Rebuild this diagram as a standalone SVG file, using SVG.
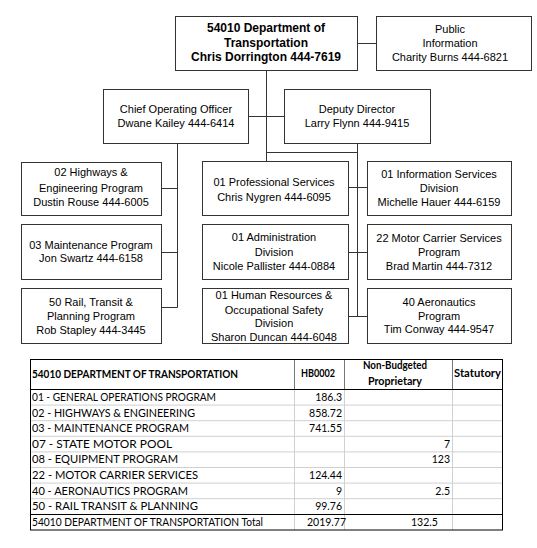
<svg xmlns="http://www.w3.org/2000/svg" width="537" height="548" viewBox="0 0 537 548">
<style>
.box{fill:#fff;stroke:#333;stroke-width:1}
.t{font-family:"Liberation Sans",Arial,sans-serif;font-size:11px;fill:#000;text-anchor:middle}
.tb{font-family:"Liberation Sans",Arial,sans-serif;font-size:12px;font-weight:bold;fill:#000;text-anchor:middle}
.con{stroke:#333;stroke-width:1;fill:none}
.tt{font-family:Lato,"Liberation Sans",sans-serif;font-size:10.5px;fill:#000}
.th{font-family:Lato,"Liberation Sans",sans-serif;font-size:10.5px;font-weight:bold;fill:#000}
.r{text-anchor:end}
.m{text-anchor:middle}
.outer{stroke:#000;stroke-width:1;fill:none}
.inner{stroke:#d0d0d0;stroke-width:1}
.hv{stroke:#777;stroke-width:1}
</style>
<rect width="537" height="548" fill="#fff"/>
<g id="connectors">
<path class="con" d="M357.5 43.5H376.5"/>
<path class="con" d="M266.5 70.5V161"/>
<path class="con" d="M248 116.5H284"/>
<path class="con" d="M266.5 152.5H357.5"/>
<path class="con" d="M357.5 143V316.5"/>
<path class="con" d="M177.5 143V307.5"/>
<path class="con" d="M161 188.5H177.5M161 252.5H177.5M161 307.5H177.5"/>
<path class="con" d="M348 187.5H367M348 252.5H367M348 316.5H367"/>
</g>
<g id="director">
<rect class="box" x="175.5" y="16.5" width="182" height="54"/>
<text class="tb" x="266" y="32">54010 Department of</text>
<text class="tb" x="266" y="47">Transportation</text>
<text class="tb" x="266" y="61">Chris Dorrington 444-7619</text>
</g>
<g id="public-info">
<rect class="box" x="376.5" y="16.5" width="155" height="54"/>
<text class="t" x="450" y="33">Public</text>
<text class="t" x="450" y="47">Information</text>
<text class="t" x="450" y="61">Charity Burns 444-6821</text>
</g>
<g id="coo">
<rect class="box" x="103.5" y="89.5" width="145" height="54"/>
<text class="t" x="176" y="113">Chief Operating Officer</text>
<text class="t" x="176" y="127">Dwane Kailey 444-6414</text>
</g>
<g id="deputy">
<rect class="box" x="284.5" y="89.5" width="146" height="54"/>
<text class="t" x="357" y="113">Deputy Director</text>
<text class="t" x="357" y="127">Larry Flynn 444-9415</text>
</g>
<g id="highways">
<rect class="box" x="21.5" y="162.5" width="140" height="53"/>
<text class="t" x="91" y="176">02 Highways &amp;</text>
<text class="t" x="91" y="192">Engineering Program</text>
<text class="t" x="91" y="206">Dustin Rouse 444-6005</text>
</g>
<g id="maintenance">
<rect class="box" x="21.5" y="224.5" width="140" height="55"/>
<text class="t" x="91" y="249">03 Maintenance Program</text>
<text class="t" x="91" y="262">Jon Swartz 444-6158</text>
</g>
<g id="rail">
<rect class="box" x="21.5" y="288.5" width="140" height="55"/>
<text class="t" x="91" y="306">50 Rail, Transit &amp;</text>
<text class="t" x="91" y="320">Planning Program</text>
<text class="t" x="91" y="334">Rob Stapley 444-3445</text>
</g>
<g id="professional">
<rect class="box" x="202.5" y="161.5" width="146" height="54"/>
<text class="t" x="274" y="186">01 Professional Services</text>
<text class="t" x="274" y="201">Chris Nygren 444-6095</text>
</g>
<g id="administration">
<rect class="box" x="202.5" y="224.5" width="146" height="55"/>
<text class="t" x="274" y="241">01 Administration</text>
<text class="t" x="274" y="256">Division</text>
<text class="t" x="274" y="270">Nicole Pallister 444-0884</text>
</g>
<g id="human-resources">
<rect class="box" x="202.5" y="288.5" width="146" height="55"/>
<text class="t" x="274" y="299">01 Human Resources &amp;</text>
<text class="t" x="274" y="314">Occupational Safety</text>
<text class="t" x="274" y="327">Division</text>
<text class="t" x="274" y="341">Sharon Duncan 444-6048</text>
</g>
<g id="information-services">
<rect class="box" x="367.5" y="161.5" width="144" height="54"/>
<text class="t" x="439" y="178">01 Information Services</text>
<text class="t" x="439" y="192">Division</text>
<text class="t" x="439" y="206">Michelle Hauer 444-6159</text>
</g>
<g id="motor-carrier">
<rect class="box" x="367.5" y="224.5" width="144" height="55"/>
<text class="t" x="439" y="242">22 Motor Carrier Services</text>
<text class="t" x="439" y="256">Program</text>
<text class="t" x="439" y="270">Brad Martin 444-7312</text>
</g>
<g id="aeronautics">
<rect class="box" x="367.5" y="288.5" width="144" height="55"/>
<text class="t" x="439" y="306">40 Aeronautics</text>
<text class="t" x="439" y="320">Program</text>
<text class="t" x="439" y="333">Tim Conway 444-9547</text>
</g>
<g id="table">
<g class="inner">
<line x1="30" y1="405.1" x2="502" y2="405.1"/>
<line x1="30" y1="420.7" x2="502" y2="420.7"/>
<line x1="30" y1="436.3" x2="502" y2="436.3"/>
<line x1="30" y1="451.9" x2="502" y2="451.9"/>
<line x1="30" y1="467.5" x2="502" y2="467.5"/>
<line x1="30" y1="483.1" x2="502" y2="483.1"/>
<line x1="30" y1="498.7" x2="502" y2="498.7"/>
<line x1="294.5" y1="389.5" x2="294.5" y2="530"/>
<line x1="344.5" y1="389.5" x2="344.5" y2="530"/>
<line x1="452.5" y1="389.5" x2="452.5" y2="530"/>
</g>
<g class="hv">
<line x1="294.5" y1="359.5" x2="294.5" y2="389.5"/>
<line x1="344.5" y1="359.5" x2="344.5" y2="389.5"/>
<line x1="452.5" y1="359.5" x2="452.5" y2="389.5"/>
</g>
<rect class="outer" x="30.5" y="359.5" width="472" height="170.5"/>
<line class="outer" x1="30.5" y1="389.5" x2="502.5" y2="389.5"/>
<line class="outer" x1="30.5" y1="514.5" x2="502.5" y2="514.5"/>
<text class="th" x="32" y="378" textLength="206" lengthAdjust="spacingAndGlyphs">54010 DEPARTMENT OF TRANSPORTATION</text>
<text class="th m" x="318" y="377" textLength="34" lengthAdjust="spacingAndGlyphs">HB0002</text>
<text class="th m" x="395" y="369" textLength="64" lengthAdjust="spacingAndGlyphs">Non-Budgeted</text>
<text class="th m" x="395" y="385" textLength="54" lengthAdjust="spacingAndGlyphs">Proprietary</text>
<text class="th" x="454" y="377" textLength="47" lengthAdjust="spacingAndGlyphs">Statutory</text>
<text class="tt" x="32" y="401" textLength="184" lengthAdjust="spacingAndGlyphs">01 - GENERAL OPERATIONS PROGRAM</text>
<text class="tt" x="32" y="416.6" textLength="163" lengthAdjust="spacingAndGlyphs">02 - HIGHWAYS &amp; ENGINEERING</text>
<text class="tt" x="32" y="432.2" textLength="157" lengthAdjust="spacingAndGlyphs">03 - MAINTENANCE PROGRAM</text>
<text class="tt" x="32" y="447.8" textLength="140" lengthAdjust="spacingAndGlyphs">07 - STATE MOTOR POOL</text>
<text class="tt" x="32" y="463.4" textLength="146" lengthAdjust="spacingAndGlyphs">08 - EQUIPMENT PROGRAM</text>
<text class="tt" x="32" y="479" textLength="166" lengthAdjust="spacingAndGlyphs">22 - MOTOR CARRIER SERVICES</text>
<text class="tt" x="32" y="494.6" textLength="156" lengthAdjust="spacingAndGlyphs">40 - AERONAUTICS PROGRAM</text>
<text class="tt" x="32" y="510.2" textLength="166" lengthAdjust="spacingAndGlyphs">50 - RAIL TRANSIT &amp; PLANNING</text>
<text class="tt" x="32" y="525.8" textLength="231" lengthAdjust="spacingAndGlyphs">54010 DEPARTMENT OF TRANSPORTATION Total</text>
<text class="tt r" x="342" y="401">186.3</text>
<text class="tt r" x="342" y="416.6">858.72</text>
<text class="tt r" x="342" y="432.2">741.55</text>
<text class="tt r" x="450" y="447.8">7</text>
<text class="tt r" x="450" y="463.4">123</text>
<text class="tt r" x="342" y="479">124.44</text>
<text class="tt r" x="342" y="494.6">9</text>
<text class="tt r" x="450" y="494.6">2.5</text>
<text class="tt r" x="342" y="510.2">99.76</text>
<text class="tt" x="307" y="525.8">2019.77</text>
<text class="tt" x="411" y="525.8">132.5</text>
</g>
</svg>
